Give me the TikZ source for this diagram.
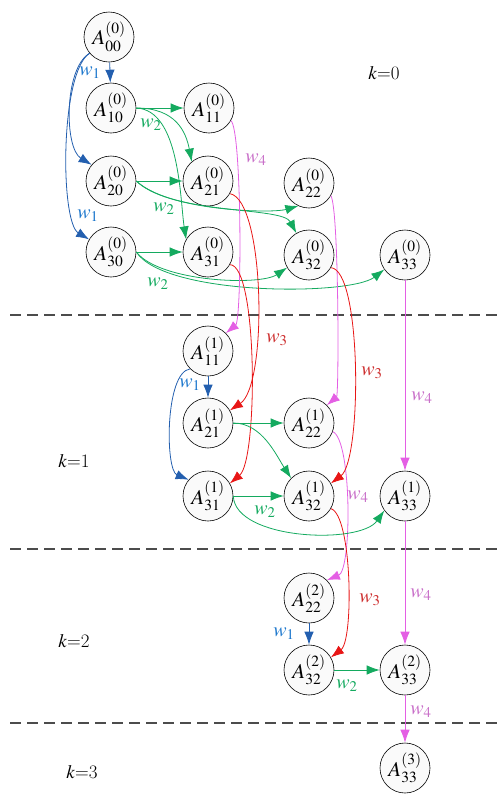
\documentclass[tikz,border=0pt]{standalone}
\usepackage{mathptmx}
\usetikzlibrary{arrows.meta}
\definecolor{bluea}{RGB}{35,95,175}
\definecolor{bluel}{RGB}{30,120,205}
\definecolor{greena}{RGB}{20,170,95}
\definecolor{reda}{RGB}{232,22,22}
\definecolor{redl}{RGB}{205,45,45}
\definecolor{viola}{RGB}{228,95,228}
\definecolor{violl}{RGB}{200,110,200}
\tikzset{
 nd/.style={circle, draw=black, line width=0.6pt, fill=gray!4, minimum size=50pt, inner sep=0pt, font=\fontsize{21}{25}\selectfont},
 arr/.style={-{Latex[length=13pt,width=9.5pt]}, line width=0.8pt},
 eb/.style={arr, draw=bluea},
 eg/.style={arr, draw=greena},
 er/.style={arr, draw=reda},
 ev/.style={arr, draw=viola},
 lab/.style={font=\fontsize{20}{24}\selectfont, inner sep=0pt},
 lb/.style={lab, text=bluel},
 lg/.style={lab, text=greena},
 lr/.style={lab, text=redl},
 lv/.style={lab, text=violl},
 kl/.style={font=\fontsize{19}{22}\selectfont, inner sep=0pt},
 sep/.style={draw=black!70, line width=1.1pt, dash pattern=on 11pt off 6pt},
}
\begin{document}
\begin{tikzpicture}[x=1pt,y=-1pt]
\useasboundingbox (0,0) rectangle (497,796);
% separators
\draw[sep] (10,315) -- (497,315);
\draw[sep] (10,549) -- (497,549);
\draw[sep] (10,723) -- (497,723);
% k labels
\node[kl] (k0) at (384,73) {$k$=0};
\node[kl] (k1) at (74,461) {$k$=1};
\node[kl] (k2) at (74,641) {$k$=2};
\node[kl] (k3) at (82,772) {$k$=3};
% level 0 nodes
\node[nd] (A00) at (109,37) {$A^{(0)}_{00}$};
\node[nd] (A10) at (111,108) {$A^{(0)}_{10}$};
\node[nd] (A11) at (209,108) {$A^{(0)}_{11}$};
\node[nd] (A20) at (111,181) {$A^{(0)}_{20}$};
\node[nd] (A21) at (208,181) {$A^{(0)}_{21}$};
\node[nd] (A22) at (309,183) {$A^{(0)}_{22}$};
\node[nd] (A30) at (111,252) {$A^{(0)}_{30}$};
\node[nd] (A31) at (208,252) {$A^{(0)}_{31}$};
\node[nd] (A32) at (309,255) {$A^{(0)}_{32}$};
\node[nd] (A33) at (405,255) {$A^{(0)}_{33}$};
% level 1 nodes
\node[nd] (B11) at (208,351) {$A^{(1)}_{11}$};
\node[nd] (B21) at (208,423) {$A^{(1)}_{21}$};
\node[nd] (B22) at (309,423) {$A^{(1)}_{22}$};
\node[nd] (B31) at (208,496) {$A^{(1)}_{31}$};
\node[nd] (B32) at (309,496) {$A^{(1)}_{32}$};
\node[nd] (B33) at (405,496) {$A^{(1)}_{33}$};
% level 2 nodes
\node[nd] (C22) at (309,598) {$A^{(2)}_{22}$};
\node[nd] (C32) at (309,670) {$A^{(2)}_{32}$};
\node[nd] (C33) at (405,670) {$A^{(2)}_{33}$};
% level 3
\node[nd] (D33) at (405,768) {$A^{(3)}_{33}$};

% ---- level 0 edges
\draw[eb] (A00) -- (A10);
\draw[eb] (A00.220) .. controls (64,68) and (64,148) .. (A20.140);
\draw[eb] (A00.220) .. controls (60,72) and (60,222) .. (A30.150);
\draw[eg] (A10) -- (A11);
\draw[eg] (A10.east) .. controls (176,108) and (186,132) .. (A21.130);
\draw[eg] (A10.east) .. controls (180,110) and (180,200) .. (A31.150);
\draw[eg] (A20) -- (A21);
\draw[eg] (A20.east) .. controls (165,210) and (270,214) .. (A22.245);
\draw[eg] (A20.east) .. controls (175,216) and (282,206) .. (A32.120);
\draw[eg] (A30) -- (A31);
\draw[eg] (A30.east) .. controls (160,282) and (260,286) .. (A32.210);
\draw[eg] (A30.east) .. controls (165,296) and (350,296) .. (A33.215);
% violet w4
\draw[ev] (A11.-30) .. controls (242,130) and (242,320) .. (B11.45);
\draw[ev] (A22.-30) .. controls (339,210) and (339,395) .. (B22.45);
\draw[ev] (A33) -- (B33);
\draw[ev] (B22.-20) .. controls (352,440) and (352,570) .. (C22.45);
\draw[ev] (B33) -- (C33);
\draw[ev] (C33) -- (D33);
% red w3
\draw[er] (A21.-30) .. controls (265,200) and (268,385) .. (B21.30);
\draw[er] (A31.-30) .. controls (258,265) and (258,460) .. (B31.30);
\draw[er] (A32.-30) .. controls (362,270) and (362,460) .. (B32.30);
\draw[er] (B32.-30) .. controls (352,515) and (354,640) .. (C32.30);
% ---- level 1 edges
\draw[eb] (B11) -- (B21);
\draw[eb] (B11.225) .. controls (165,372) and (165,470) .. (B31.140);
\draw[eg] (B21) -- (B22);
\draw[eg] (B21.east) .. controls (262,423) and (276,455) .. (B32.135);
\draw[eg] (B31) -- (B32);
\draw[eg] (B31.east) .. controls (235,540) and (360,545) .. (B33.215);
% ---- level 2 edges
\draw[eb] (C22) -- (C32);
\draw[eg] (C32) -- (C33);

% labels
\node[lb] (l1) at (90,73) {$w_1$};
\node[lb] (l2) at (88,216) {$w_1$};
\node[lb] (l3) at (190,385) {$w_1$};
\node[lb] (l4) at (284,634) {$w_1$};
\node[lg] (m1) at (151,125) {$w_2$};
\node[lg] (m2) at (164,209) {$w_2$};
\node[lg] (m3) at (158,284) {$w_2$};
\node[lg] (m4) at (265,512) {$w_2$};
\node[lg] (m5) at (347,686) {$w_2$};
\node[lr] (n1) at (277,340) {$w_3$};
\node[lr] (n2) at (372,373) {$w_3$};
\node[lr] (n3) at (370,600) {$w_3$};
\node[lv] (o1) at (256,160) {$w_4$};
\node[lv] (o2) at (422,398) {$w_4$};
\node[lv] (o3) at (358,497) {$w_4$};
\node[lv] (o4) at (421,595) {$w_4$};
\node[lv] (o5) at (421,712) {$w_4$};
\end{tikzpicture}
\end{document}
